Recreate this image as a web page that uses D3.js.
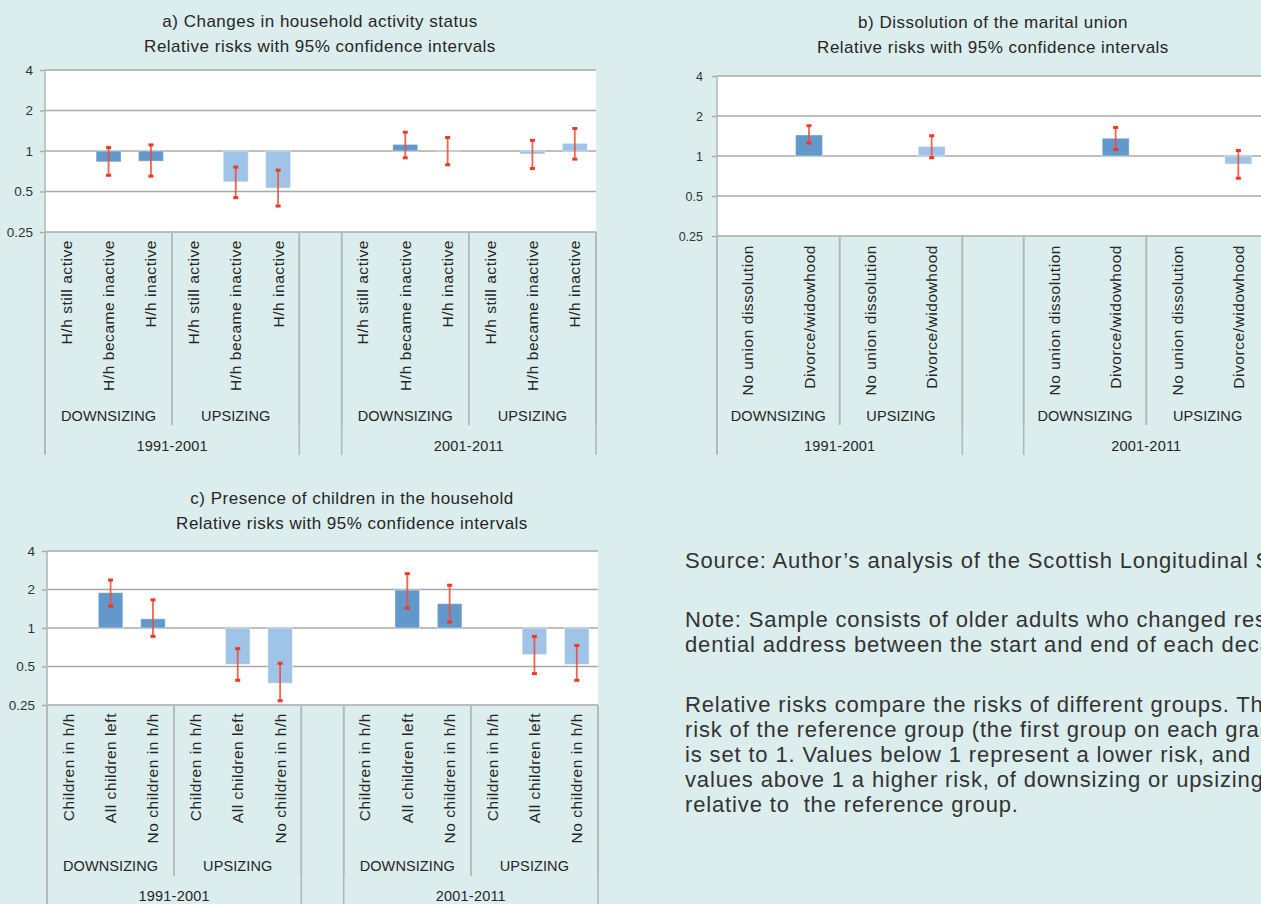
<!DOCTYPE html>
<html>
<head>
<meta charset="utf-8">
<script src="https://cdn.jsdelivr.net/npm/d3@7"></script>
<style>
  html, body { margin: 0; padding: 0; background: #dbeded; }
  svg { display: block; }
  text { font-family: "Liberation Sans", Arial, Helvetica, sans-serif; fill: #262626; }
</style>
</head>
<body>
<svg id="chart" width="1261" height="904"></svg>
<script>
// Relative risks (RR) with lower / upper 95% confidence bounds.
// Order inside each period: DOWNSIZING categories, then UPSIZING categories.
// The first category of each group is the reference group (RR = 1, no interval).
const periods = ["1991-2001", "2001-2011"];
const moveTypes = ["DOWNSIZING", "UPSIZING"];

const activityCategories = ["H/h still active", "H/h became inactive", "H/h inactive"];
const activityRR   = [1, 0.83, 0.84, 1, 0.59, 0.53,   1, 1.12, 1.01, 1, 0.95, 1.14];
const activityLow  = [null, 0.66, 0.65, null, 0.45, 0.39,   null, 0.89, 0.79, null, 0.74, 0.87];
const activityHigh = [null, 1.06, 1.11, null, 0.76, 0.72,   null, 1.38, 1.26, null, 1.20, 1.47];

const unionCategories = ["No union dissolution", "Divorce/widowhood"];
const unionRR   = [1, 1.44, 1, 1.18,   1, 1.36, 1, 0.87];
const unionLow  = [null, 1.25, null, 0.97,   null, 1.12, null, 0.68];
const unionHigh = [null, 1.69, null, 1.42,   null, 1.64, null, 1.10];

const childCategories = ["Children in h/h", "All children left", "No children in h/h"];
const childRR   = [1, 1.89, 1.18, 1, 0.52, 0.37,   1, 1.98, 1.55, 1, 0.62, 0.52];
const childLow  = [null, 1.48, 0.86, null, 0.39, 0.27,   null, 1.43, 1.11, null, 0.44, 0.39];
const childHigh = [null, 2.37, 1.66, null, 0.69, 0.53,   null, 2.66, 2.16, null, 0.86, 0.73];

const yTicks = [0.25, 0.5, 1, 2, 4];
const yTickLabels = ["0.25", "0.5", "1", "2", "4"];

const titleA = ["a) Changes in household activity status", "Relative risks with 95% confidence intervals"];
const titleB = ["b) Dissolution of the marital union", "Relative risks with 95% confidence intervals"];
const titleC = ["c) Presence of children in the household", "Relative risks with 95% confidence intervals"];

const sourceLines = ["Source: Author\u2019s analysis of the Scottish Longitudinal Study"];
const noteLines = [
  "Note: Sample consists of older adults who changed resi-",
  "dential address between the start and end of each decade."
];
const explainLines = [
  "Relative risks compare the risks of different groups. The",
  "risk of the reference group (the first group on each graph)",
  "is set to 1. Values below 1 represent a lower risk, and",
  "values above 1 a higher risk, of downsizing or upsizing,",
  "relative to  the reference group."
];

const moveColor = { "DOWNSIZING": "#6398cb", "UPSIZING": "#a0c4e8" };
const gridColor = "#a9a9a9";
const dividerColor = "#b4b8b8";
const errColor = "#f04a35";

const svg = d3.select("#chart");

function drawPanel(o) {
  const g = svg.append("g");

  // slots: one per category, plus an empty slot between the periods
  const recs = [];
  const slots = [];
  let i = 0;
  periods.forEach((p, pi) => {
    moveTypes.forEach(m => {
      o.categories.forEach(c => {
        const key = p + "|" + m + "|" + c;
        recs.push({ key, period: p, move: m, cat: c, rr: o.rr[i], lo: o.low[i], hi: o.high[i] });
        slots.push(key);
        i++;
      });
    });
    if (pi < periods.length - 1) slots.push("gap" + pi);
  });

  const x = d3.scaleBand().domain(slots).range([o.left, o.right])
    .paddingInner(o.pad).paddingOuter(o.pad / 2);
  const y = d3.scaleLog().base(2).domain([0.25, 4]).range([o.bottom, o.top]);
  const step = x.step();
  const cx = k => x(k) + x.bandwidth() / 2;
  const slotStart = k => cx(k) - step / 2;
  const slotEnd = k => cx(k) + step / 2;

  // titles
  o.title.forEach((t, ti) => {
    g.append("text").attr("x", o.titleX).attr("y", o.titleY + ti * 25)
      .attr("text-anchor", "middle").attr("dy", "0.35em")
      .style("font-size", "17px").style("letter-spacing", "0.5px")
      .text(t);
  });

  // plot area
  g.append("rect").attr("x", o.left).attr("y", o.top)
    .attr("width", o.right - o.left).attr("height", o.bottom - o.top)
    .attr("fill", "#ffffff");

  // horizontal gridlines
  g.append("g").selectAll("line").data(yTicks).join("line")
    .attr("x1", o.left).attr("x2", o.right)
    .attr("y1", d => y(d)).attr("y2", d => y(d))
    .attr("stroke", gridColor).attr("stroke-width", 1.6);

  // y axis
  const axis = g.append("g").attr("transform", `translate(${o.left},0)`)
    .call(d3.axisLeft(y).tickValues(yTicks)
      .tickFormat((d, k) => yTickLabels[k]).tickSize(5).tickPadding(o.tickPad));
  axis.select(".domain").remove();
  axis.selectAll(".tick line").attr("stroke", gridColor).attr("stroke-width", 1.4);
  axis.selectAll(".tick text")
    .style("font-family", "Liberation Sans, Arial, sans-serif")
    .style("font-size", o.tickSize + "px").style("fill", "#333");

  // axis line running down through the category area
  g.append("line").attr("x1", o.left).attr("x2", o.left)
    .attr("y1", o.top).attr("y2", o.yearLineBottom)
    .attr("stroke", dividerColor).attr("stroke-width", 1.6);

  // bars
  g.append("g").selectAll("rect").data(recs.filter(d => d.rr !== 1)).join("rect")
    .attr("x", d => x(d.key))
    .attr("width", x.bandwidth())
    .attr("y", d => Math.min(y(d.rr), y(1)))
    .attr("height", d => Math.abs(y(d.rr) - y(1)))
    .attr("fill", d => moveColor[d.move])
    .attr("stroke", "#ffffff").attr("stroke-opacity", 0.45).attr("stroke-width", 1);

  // confidence intervals
  const ci = recs.filter(d => d.lo != null);
  const eg = g.append("g");
  eg.selectAll("line").data(ci).join("line")
    .attr("x1", d => cx(d.key)).attr("x2", d => cx(d.key))
    .attr("y1", d => y(d.lo)).attr("y2", d => y(d.hi))
    .attr("stroke", errColor).attr("stroke-opacity", 0.85).attr("stroke-width", 1.8);
  ["lo", "hi"].forEach(end => {
    eg.append("g").selectAll("rect").data(ci).join("rect")
      .attr("x", d => cx(d.key) - 2.5).attr("width", 5)
      .attr("y", d => y(d[end]) - 1.5).attr("height", 3)
      .attr("fill", "#ee3a22");
  });

  // category labels, rotated
  g.append("g").selectAll("text").data(recs).join("text")
    .attr("transform", d => `translate(${cx(d.key) + 5.5},${o.catTop}) rotate(-90)`)
    .attr("text-anchor", "end")
    .style("font-size", "15.5px").style("letter-spacing", "0.55px")
    .text(d => d.cat);

  // move-type groups and period groups
  const n = o.categories.length;
  periods.forEach((p, pi) => {
    const pRecs = recs.filter(d => d.period === p);
    const pStart = slotStart(pRecs[0].key), pEnd = slotEnd(pRecs[pRecs.length - 1].key);
    [pStart, pEnd].forEach(xx => {
      g.append("line").attr("x1", xx).attr("x2", xx)
        .attr("y1", o.bottom).attr("y2", o.yearLineBottom)
        .attr("stroke", dividerColor).attr("stroke-width", 1.6);
    });
    g.append("text").attr("x", (pStart + pEnd) / 2).attr("y", o.yearY)
      .attr("text-anchor", "middle").style("font-size", "14.5px").style("letter-spacing", "0.2px")
      .text(p);
    moveTypes.forEach(m => {
      const mRecs = pRecs.filter(d => d.move === m);
      const s = slotStart(mRecs[0].key), e = slotEnd(mRecs[n - 1].key);
      [s, e].forEach(xx => {
        g.append("line").attr("x1", xx).attr("x2", xx)
          .attr("y1", o.bottom).attr("y2", o.subLineBottom)
          .attr("stroke", dividerColor).attr("stroke-width", 1.6);
      });
      g.append("text").attr("x", (s + e) / 2).attr("y", o.subY)
        .attr("text-anchor", "middle").style("font-size", "14.5px").style("letter-spacing", "0.1px")
        .text(m);
    });
  });
}

drawPanel({
  categories: activityCategories, rr: activityRR, low: activityLow, high: activityHigh,
  title: titleA, titleX: 320, titleY: 21,
  left: 45, right: 596, top: 70, bottom: 232, pad: 0.41,
  tickPad: 7, tickSize: 13.5,
  catTop: 240, subY: 421, yearY: 451, subLineBottom: 425, yearLineBottom: 455
});

drawPanel({
  categories: unionCategories, rr: unionRR, low: unionLow, high: unionHigh,
  title: titleB, titleX: 993, titleY: 22,
  left: 717, right: 1269, top: 76, bottom: 236, pad: 0.56,
  tickPad: 9, tickSize: 12.5,
  catTop: 245, subY: 421, yearY: 451, subLineBottom: 425, yearLineBottom: 455
});

drawPanel({
  categories: childCategories, rr: childRR, low: childLow, high: childHigh,
  title: titleC, titleX: 352, titleY: 498,
  left: 47, right: 598, top: 551, bottom: 705, pad: 0.42,
  tickPad: 7, tickSize: 13.5,
  catTop: 713, subY: 871, yearY: 901, subLineBottom: 876, yearLineBottom: 910
});

// explanatory notes
const notes = svg.append("g").attr("transform", "translate(685,0)");
function block(lines, y0) {
  lines.forEach((t, k) => {
    notes.append("text").attr("x", 0).attr("y", y0 + k * 25)
      .style("font-size", "22px").style("letter-spacing", "0.85px")
      .style("white-space", "pre").style("fill", "#333")
      .text(t);
  });
}
block(sourceLines, 568);
block(noteLines, 627);
block(explainLines, 712);
</script>
</body>
</html>
